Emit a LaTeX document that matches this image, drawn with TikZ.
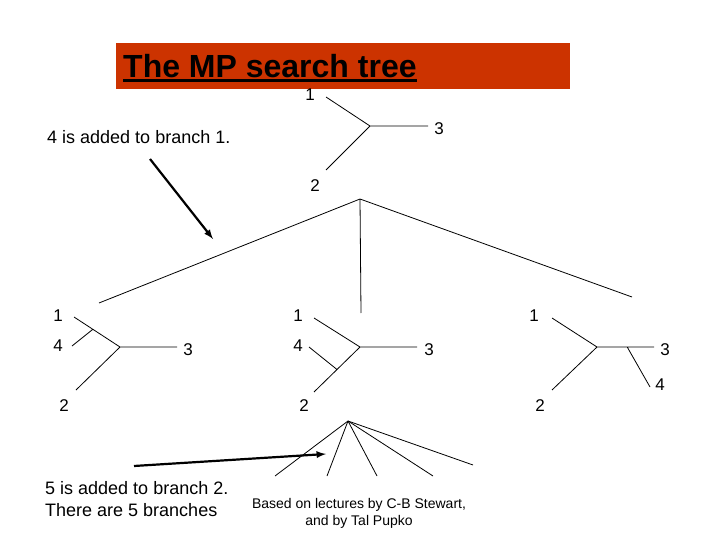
\documentclass[tikz,border=0pt]{standalone}
\usepackage{fontspec}
\setmainfont{Liberation Sans}
\usepackage{tikz}
\usetikzlibrary{arrows,calc}
\definecolor{titlered}{RGB}{204,51,0}

\begin{document}
\begin{tikzpicture}[
		x=1pt, y=-1pt,
		every node/.style={inner sep=0pt},
		branch/.style={draw, line width=0.8pt},
		pointer/.style={draw, line width=2.2pt, -latex},
		taxon/.style={font=\fontsize{17}{20}\selectfont},
		remark/.style={font=\fontsize{18}{22}\selectfont, align=left},
		credit/.style={font=\fontsize{14}{17}\selectfont, align=center}
	]
	\useasboundingbox (0,0) rectangle (720,540);

	% title bar
	\fill[titlered] (116,43) rectangle (570,89);
	\node[anchor=base west, font=\fontsize{32}{36}\selectfont\bfseries] (title) at (123,78) {The MP search tree};
	\draw[line width=2.6pt] ([yshift=-2.5pt]title.base west) -- ([yshift=-2.5pt]title.base east);

	% tree of three taxa
	\coordinate (t0) at (370,126);
	\coordinate (t1) at (326,97);
	\coordinate (t2) at (326,170);
	\coordinate (t3) at (428,126);
	\node[taxon] (t1l) at (310,95) {1};
	\node[taxon] (t2l) at (315,186) {2};
	\node[taxon] (t3l) at (439,129) {3};
	\draw[branch] (t0) -- (t1) (t0) -- (t2) (t0) -- (t3);

	\node[remark, anchor=west] (add4) at (47,137) {4 is added to branch 1.};
	\coordinate (add4s) at (150,159);
	\coordinate (add4e) at (213,239);
	\draw[pointer] (add4s) -- (add4e);

	% search tree branches
	\coordinate (root) at (360,199);
	\coordinate (bA) at (99,303);
	\coordinate (bB) at (361,313);
	\coordinate (bC) at (632,297);
	\draw[branch] (root) -- (bA) (root) -- (bB) (root) -- (bC);

	% 4 on branch 1
	\coordinate (a0) at (120,347);
	\coordinate (a1) at (74,317);
	\coordinate (a2) at (76,390);
	\coordinate (a3) at (177,347);
	\coordinate (a4) at (72,346);
	\coordinate (a5) at ($(a0)!0.59!(a1)$);
	\draw[branch] (a0) -- (a1) (a0) -- (a2) (a0) -- (a3) (a5) -- (a4);
	\node[taxon] (a1l) at (58,316) {1};
	\node[taxon] (a4l) at (58,346) {4};
	\node[taxon] (a3l) at (188,350) {3};
	\node[taxon] (a2l) at (64,406) {2};

	% 4 on branch 2
	\coordinate (c0) at (360,347);
	\coordinate (c1) at (314,318);
	\coordinate (c2) at (314,392);
	\coordinate (c3) at (417,347);
	\coordinate (c4) at (309,347);
	\coordinate (c5) at ($(c0)!0.5!(c2)$);
	\draw[branch] (c0) -- (c1) (c0) -- (c2) (c0) -- (c3) (c5) -- (c4);
	\node[taxon] (c1l) at (298,316) {1};
	\node[taxon] (c4l) at (298,346) {4};
	\node[taxon] (c3l) at (429,350) {3};
	\node[taxon] (c2l) at (304,406) {2};

	% 4 on branch 3
	\coordinate (d0) at (597,347);
	\coordinate (d1) at (552,318);
	\coordinate (d2) at (552,390);
	\coordinate (d3) at (654,347);
	\coordinate (d4) at (650,387);
	\coordinate (d5) at ($(d0)!0.53!(d3)$);
	\draw[branch] (d0) -- (d1) (d0) -- (d2) (d0) -- (d3) (d5) -- (d4);
	\node[taxon] (d1l) at (534,316) {1};
	\node[taxon] (d3l) at (665,350) {3};
	\node[taxon] (d4l) at (660,385) {4};
	\node[taxon] (d2l) at (540,406) {2};

	% next level: five branches
	\coordinate (s0) at (348,421);
	\foreach \n/\px/\py in {1/275/476, 2/327/476, 3/377/476, 4/433/476, 5/473/465} {
		\coordinate (s\n) at (\px,\py);
		\draw[branch] (s0) -- (s\n);
	}

	\coordinate (add5s) at (134,466);
	\coordinate (add5e) at (326,454);
	\draw[pointer] (add5s) -- (add5e);
	\node[remark, anchor=north west] (add5) at (45,481) {5 is added to branch 2.\\There are 5 branches};

	\node[credit, anchor=north] (source) at (359,498) {Based on lectures by C-B Stewart,\\and by Tal Pupko};
\end{tikzpicture}
\end{document}
